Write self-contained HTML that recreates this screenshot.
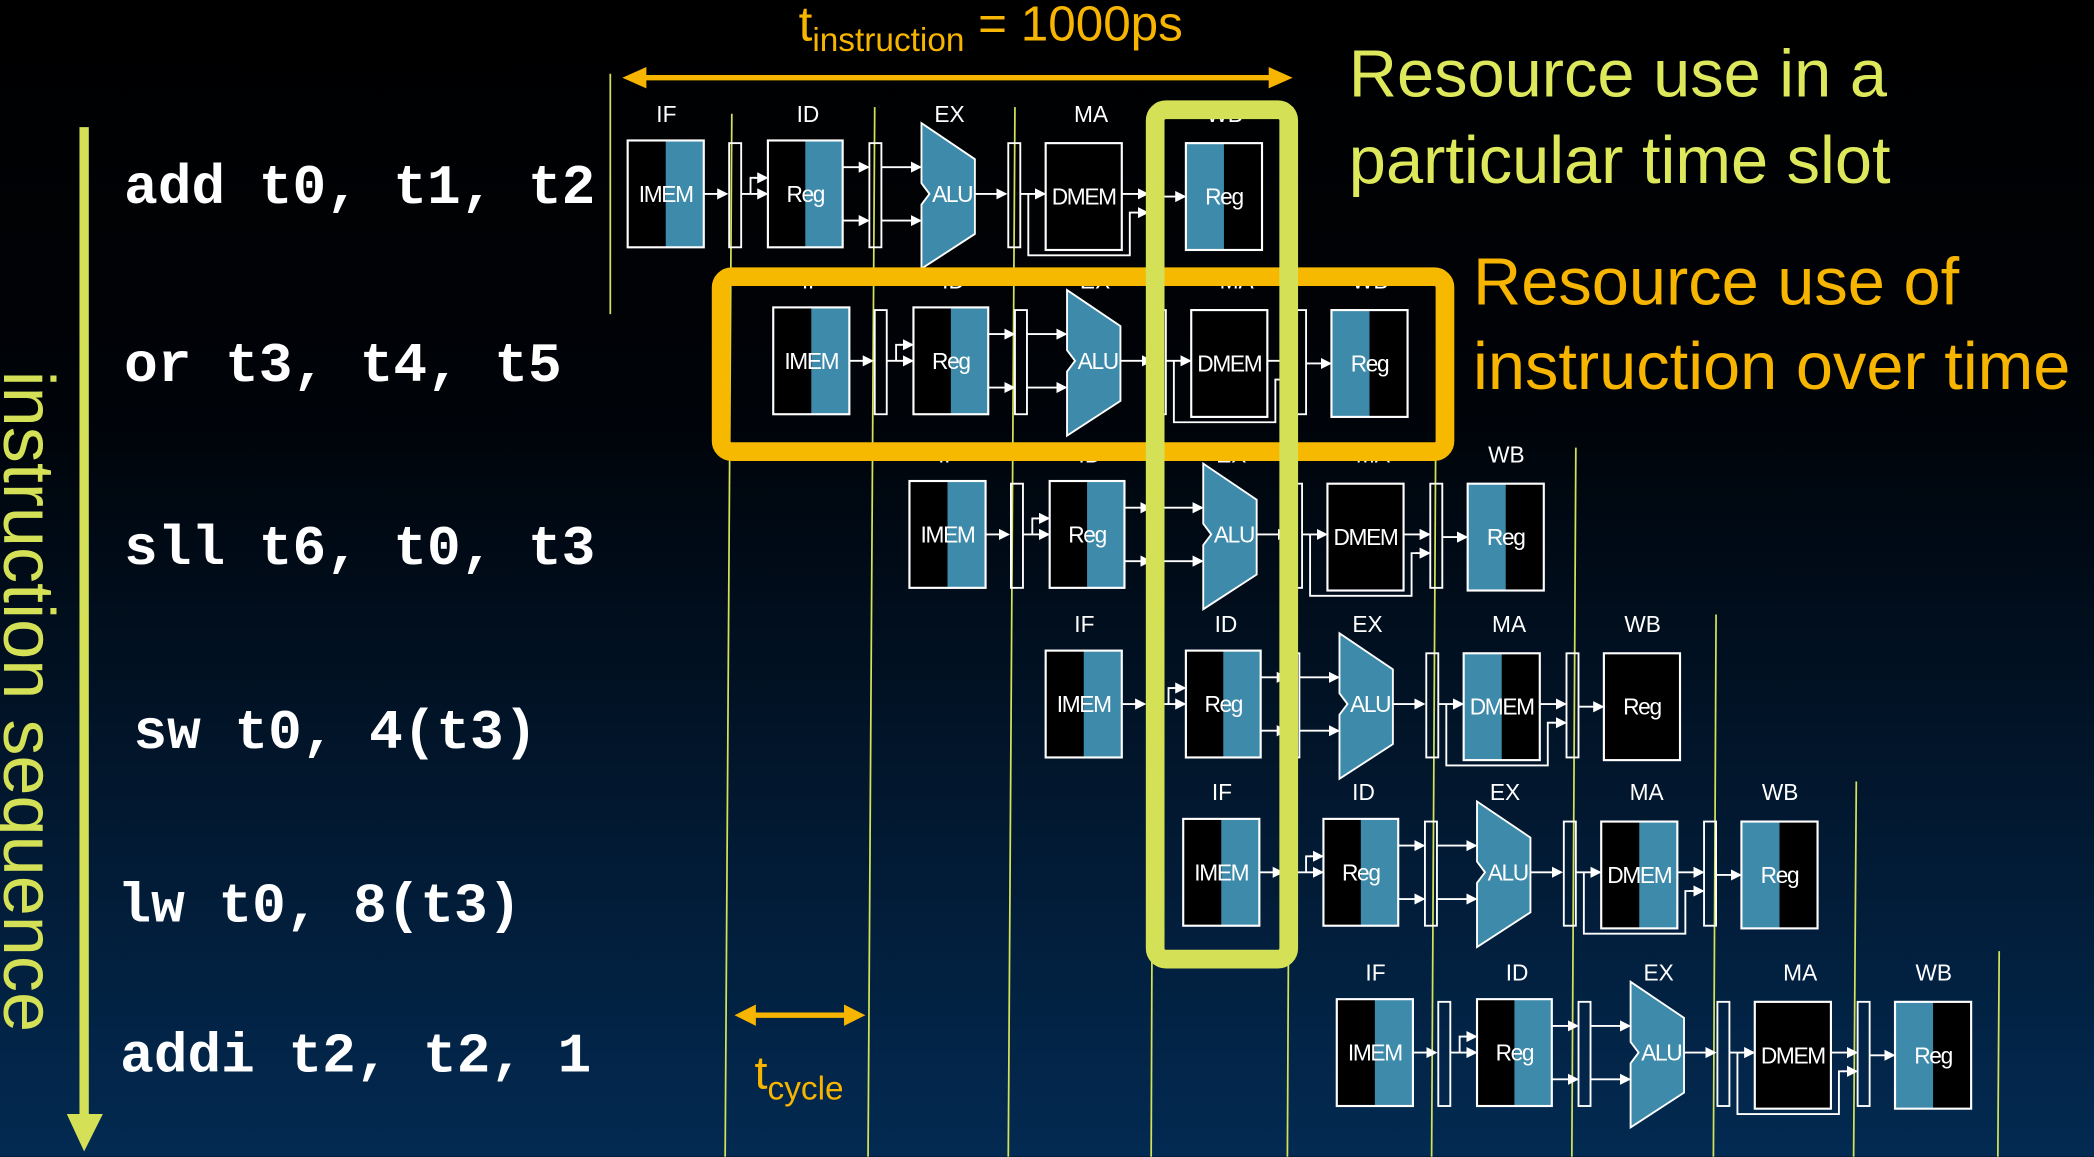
<!DOCTYPE html>
<html><head><meta charset="utf-8"><style>
html,body{margin:0;padding:0;background:#000;}
svg{display:block;}
</style></head><body>
<svg id="root" width="2094" height="1157" viewBox="0 0 1568 866" xmlns="http://www.w3.org/2000/svg">
<defs>
<linearGradient id="bg" x1="0" y1="0" x2="0" y2="1">
<stop offset="0" stop-color="#000000"/><stop offset="0.35" stop-color="#000308"/><stop offset="1" stop-color="#032a52"/>
</linearGradient>
<marker id="ah" markerWidth="6" markerHeight="6" refX="5" refY="3" orient="auto"><path d="M0,0 L6,3 L0,6 z" fill="#fff"/></marker>
</defs>
<rect x="0" y="0" width="1568" height="866" fill="url(#bg)"/>
<g id="vlines" stroke="#d4e157" stroke-width="1.3"></g>
<g id="rows"></g>

<g>
<line x1="63" y1="95" x2="63" y2="838" stroke="#d4e157" stroke-width="7"/>
<polygon points="50,834 77,834 63,862" fill="#d4e157"/>
</g>
<text transform="translate(3,525) rotate(90)" text-anchor="middle" font-family="Liberation Sans, sans-serif" font-size="54" fill="#d4e157">instruction sequence</text>

<g font-family="Liberation Mono, monospace" font-weight="bold" font-size="42" fill="#fff">
<text x="93" y="152">add t0, t1, t2</text>
<text x="93" y="285">or t3, t4, t5</text>
<text x="93" y="422">sll t6, t0, t3</text>
<text x="100" y="560">sw t0, 4(t3)</text>
<text x="88" y="690">lw t0, 8(t3)</text>
<text x="90" y="802">addi t2, t2, 1</text>
</g>

<g fill="#f7b500" stroke="#f7b500">
<line x1="478" y1="58" x2="956" y2="58" stroke-width="4"/>
<polygon points="466,58 484,50 484,66" stroke="none"/>
<polygon points="968,58 950,50 950,66" stroke="none"/>
</g>
<text x="598" y="30" font-family="Liberation Sans, sans-serif" font-size="37" fill="#f7b500">t<tspan font-size="25" dy="8">instruction</tspan><tspan dy="-8"> = 1000ps</tspan></text>

<g fill="#f7b500" stroke="#f7b500">
<line x1="562" y1="760" x2="636" y2="760" stroke-width="4"/>
<polygon points="550,760 566,752 566,768" stroke="none"/>
<polygon points="648,760 632,752 632,768" stroke="none"/>
</g>
<text x="565" y="815" font-family="Liberation Sans, sans-serif" font-size="35" fill="#f7b500">t<tspan font-size="25" dy="8">cycle</tspan></text>

<rect x="540" y="207" width="542" height="131" rx="8" fill="none" stroke="#f7b900" stroke-width="14"/>
<rect x="865" y="82" width="100" height="636" rx="8" fill="none" stroke="#d4e157" stroke-width="14"/>

<g font-family="Liberation Sans, sans-serif" font-size="50">
<text x="1010" y="72" fill="#dde85a">Resource use in a</text>
<text x="1010" y="137" fill="#dde85a">particular time slot</text>
<text x="1103" y="228" fill="#f7b500">Resource use of</text>
<text x="1103" y="291" fill="#f7b500">instruction over time</text>
</g>
</svg>
<script>
const instructions = ["add","or","sll","sw","lw","addi"];
const rowX = [470,579,681,783,886,1001];
const rowY = [105,230,360,487,613,748];
const dmemUse = ["","","","L","R",""];
const wbUse = ["L","L","L","","L","L"];
const stageLabels = ["IF","ID","EX","MA","WB"];
const NS="http://www.w3.org/2000/svg";
const BLUE="#3d8aab";
function mk(tag, attrs, parent){const e=document.createElementNS(NS,tag);for(const k in attrs)e.setAttribute(k,attrs[k]);parent.appendChild(e);return e;}
const vl=document.getElementById('vlines');
const vlines=[[457,55,457,235],[548,85,543,866],[655,80,650,866],[760,80,755,866],[865,80,862,866],[968,80,964,866],[1075,340,1072,866],[1180,335,1177,866],[1285,460,1283,866],[1390,585,1388,866],[1497,712,1496,866]];
vlines.forEach(v=>{const l=mk('line',{x1:v[0],y1:v[1],x2:v[2],y2:v[3]},vl);

});
const rows=document.getElementById('rows');
function box(g,x,y,w,h,blue,label,name){
  const r=mk('g',{},g);
  
  
  mk('rect',{x:x,y:y,width:w,height:h,fill:'#000'},r);
  if(blue==='R')mk('rect',{x:x+w/2,y:y,width:w/2,height:h,fill:BLUE},r);
  if(blue==='L')mk('rect',{x:x,y:y,width:w/2,height:h,fill:BLUE},r);
  mk('rect',{x:x,y:y,width:w,height:h,fill:'none',stroke:'#fff','stroke-width':1.6},r);
  const t=mk('text',{x:x+w/2,y:y+h/2+6,'text-anchor':'middle','font-family':'Liberation Sans, sans-serif','font-size':17,fill:'#fff','letter-spacing':'-1'},r);t.textContent=label;
}
function arr(g,x1,y1,x2,y2){mk('line',{x1:x1,y1:y1,x2:x2,y2:y2,stroke:'#fff','stroke-width':1.4,'marker-end':'url(#ah)'},g);}
function ln(g,pts){mk('polyline',{points:pts,fill:'none',stroke:'#fff','stroke-width':1.4},g);}
instructions.forEach((ins,i)=>{
  const X=rowX[i],Y=rowY[i];
  const g=mk('g',{transform:`translate(${X},${Y})`},rows);
  
  
  const lx=[29,135,241,347,447];
  stageLabels.forEach((s,k)=>{const t=mk('text',{x:lx[k],y:-14,'text-anchor':'middle','font-family':'Liberation Sans, sans-serif','font-size':17,fill:'#fff'},g);t.textContent=s;
    
    });
  box(g,0,0,57,80,'R','IMEM','imem');
  arr(g,57,40,74,40);
  mk('rect',{x:76,y:2,width:9,height:78,fill:'none',stroke:'#fff','stroke-width':1.4},g);
  arr(g,85,40,104,40); ln(g,'92,40 92,28 96,28'); arr(g,95,28,104,28);
  box(g,105,0,56,80,'R','Reg','id-reg');
  arr(g,161,20,180,20); arr(g,161,60,180,60);
  mk('rect',{x:181,y:2,width:9,height:78,fill:'none',stroke:'#fff','stroke-width':1.4},g);
  arr(g,190,20,219,20); arr(g,190,60,219,60);
  const a=mk('g',{},g);
  
  
  mk('polygon',{points:'220,-13 260,14 260,70 220,96 220,48 226,40 220,32',fill:BLUE,stroke:'#fff','stroke-width':1.4},a);
  const at=mk('text',{x:243,y:46,'text-anchor':'middle','font-family':'Liberation Sans, sans-serif','font-size':17,fill:'#fff','letter-spacing':'-1'},a);at.textContent='ALU';
  arr(g,260,40,283,40);
  mk('rect',{x:285,y:2,width:9,height:78,fill:'none',stroke:'#fff','stroke-width':1.4},g);
  arr(g,294,40,312,40); ln(g,'300,40 300,86 376,86 376,54 380,54'); arr(g,379,54,389,54);
  box(g,313,2,57,80,dmemUse[i],'DMEM','dmem');
  arr(g,370,40,389,40);
  mk('rect',{x:390,y:2,width:9,height:78,fill:'none',stroke:'#fff','stroke-width':1.4},g);
  arr(g,399,42,417,42);
  box(g,418,2,57,80,wbUse[i],'Reg','wb-reg');
});
</script>
</body></html>
